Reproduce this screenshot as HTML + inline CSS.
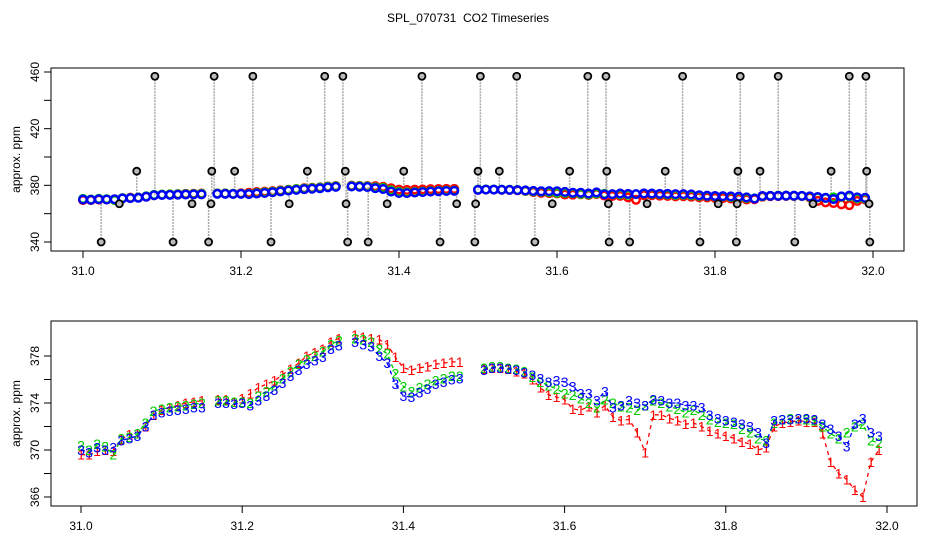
<!DOCTYPE html>
<html><head><meta charset="utf-8">
<style>
html,body{margin:0;padding:0;background:#fff;}
svg{display:block;font-family:"Liberation Sans",sans-serif;}
</style></head>
<body>
<svg id="chart" width="936" height="540" viewBox="0 0 936 540" xmlns="http://www.w3.org/2000/svg">
<rect x="0" y="0" width="936" height="540" fill="#fff"/>
<text x="468" y="22" font-size="12" text-anchor="middle" style="white-space:pre">SPL_070731  CO2 Timeseries</text>
<g id="top"></g>
<g id="bot"></g>
</svg>
<script>
const startTime = 31.0;
const timeStep = 0.01;
const ch1 = [369.6,369.6,369.9,370.0,369.9,370.9,371.3,371.4,372.0,373.0,
373.4,373.6,373.8,374.0,374.1,374.2,null,374.3,374.3,374.1,
374.4,374.8,375.3,375.6,375.9,376.4,376.9,377.4,378.0,378.3,
378.6,379.2,379.5,null,379.8,379.6,379.5,379.4,379.0,377.9,
377.0,376.8,377.0,377.1,377.3,377.4,377.5,377.5,null,null,
376.9,377.0,377.0,376.9,376.7,376.5,376.0,375.3,374.7,374.5,
374.3,373.5,373.4,373.7,373.2,373.8,372.8,372.5,372.6,371.5,
369.8,373.0,373.0,372.7,372.5,372.2,372.3,372.0,371.6,371.4,
371.2,371.0,370.7,370.5,370.0,370.2,372.0,372.3,372.4,372.5,
372.4,372.4,371.4,369.0,368.0,367.5,366.6,366.0,369.0,370.0];
const ch2 = [370.4,370.0,370.5,370.3,369.6,371.0,371.1,371.4,372.3,373.3,
373.5,373.6,373.7,373.8,373.9,374.0,null,374.2,374.2,374.1,
374.1,374.0,374.6,375.0,375.5,376.1,376.7,377.3,377.7,378.0,
378.4,379.0,379.3,null,379.5,379.4,379.2,378.6,378.2,376.5,
375.4,375.0,375.3,375.6,375.9,376.1,376.3,376.3,null,null,
377.0,377.1,377.1,377.0,376.9,376.7,376.2,375.8,375.5,375.2,
374.8,374.7,374.4,374.0,373.6,374.3,374.0,373.7,373.6,373.4,
373.8,374.2,374.0,373.7,373.5,373.2,373.4,373.0,372.6,372.4,
372.3,372.2,371.8,371.5,371.0,370.8,372.3,372.6,372.7,372.7,
372.6,372.5,372.0,371.4,371.0,371.5,372.0,372.2,370.8,370.6];
const ch3 = [370.0,369.8,370.2,370.0,370.2,370.8,371.0,371.2,372.0,373.0,
373.2,373.3,373.4,373.5,373.6,373.6,null,374.0,374.0,373.9,
374.0,373.8,374.2,374.6,375.1,375.7,376.3,376.8,377.3,377.6,
377.9,378.6,378.9,null,379.2,379.0,378.8,378.0,377.4,375.6,
374.6,374.5,374.9,375.2,375.6,375.8,376.0,376.1,null,null,
376.8,377.0,377.0,376.9,376.8,376.6,376.4,376.1,375.8,375.9,
375.8,375.4,374.8,374.8,374.2,375.0,373.6,373.8,374.2,374.0,
373.8,374.3,374.2,374.0,374.0,373.8,373.8,373.6,373.0,372.7,
372.5,372.4,372.2,372.0,371.5,370.6,372.5,372.6,372.6,372.7,
372.7,372.6,372.2,371.8,371.2,370.3,372.2,372.7,371.5,371.2];
const outlierTimes = [31.023,31.114,31.159,31.238,31.335,31.361,31.452,31.496,31.572,31.666,31.692,31.781,31.827,31.901,31.996,
31.046,31.138,31.162,31.261,31.333,31.385,31.473,31.497,31.594,31.665,31.714,31.804,31.828,31.924,31.995,
31.068,31.163,31.192,31.284,31.332,31.406,31.5,31.527,31.616,31.663,31.737,31.829,31.857,31.947,31.992,
31.091,31.166,31.215,31.306,31.329,31.429,31.503,31.549,31.639,31.662,31.759,31.832,31.88,31.97,31.991];
const outlierValues = [340,340,340,340,340,340,340,340,340,340,340,340,340,340,340,
367,367,367,367,367,367,367,367,367,367,367,367,367,367,367,
390,390,390,390,390,390,390,390,390,390,390,390,390,390,390,
457,457,457,457,457,457,457,457,457,457,457,457,457,457,457];
const xTicks = [31.0,31.2,31.4,31.6,31.8,32.0];
const xTickLabels = ["31.0","31.2","31.4","31.6","31.8","32.0"];
const topYTicks = [340,360,380,400,420,440,460];
const topYLabels = ["340","","380","","420","","460"];
const botYTicks = [366,368,370,372,374,376,378];
const botYLabels = ["366","","370","","374","","378"];

const NS="http://www.w3.org/2000/svg";
function mk(parent,tag,attrs){const e=document.createElementNS(NS,tag);for(const k in attrs)e.setAttribute(k,attrs[k]);parent.appendChild(e);return e;}
const times = ch1.map((_,i)=>startTime+i*timeStep);

function panel(g, P, yTicks, yLabels){
  const fx=t=>P.x0+(t-31)*P.sx, fy=v=>P.y0+(P.v0-v)*P.sy;
  const box=mk(g,'rect',{x:P.l,y:P.t,width:P.r-P.l,height:P.b-P.t,fill:'none',stroke:'#000','stroke-width':1});
  
  
  xTicks.forEach((t,i)=>{
    const x=fx(t);
    const tk=mk(g,'line',{x1:x,x2:x,y1:P.b,y2:P.b+7,stroke:'#000'});
    
    
    const tl=mk(g,'text',{x:x,y:P.b+24,'font-size':12,'text-anchor':'middle'});
    tl.textContent=xTickLabels[i];
    
    
  });
  yTicks.forEach((v,i)=>{
    const y=fy(v);
    const tk=mk(g,'line',{x1:P.l-7,x2:P.l,y1:y,y2:y,stroke:'#000'});
    
    
    if(yLabels[i]){
      const tl=mk(g,'text',{x:0,y:0,'font-size':12,'text-anchor':'middle',transform:`translate(${P.l-12},${y}) rotate(-90)`});
      tl.textContent=yLabels[i];
      
      
    }
  });
  const yl=mk(g,'text',{x:0,y:0,'font-size':12,'text-anchor':'middle',transform:`translate(20,${(P.t+P.b)/2}) rotate(-90)`});
  yl.textContent='approx. ppm';
  
  
  return {fx,fy};
}

// top panel
const TP={l:51,r:904,t:68,b:251,x0:83,sx:790,y0:72,v0:460,sy:170/120};
const gt=document.getElementById('top');
const A=panel(gt,TP,topYTicks,topYLabels);
const clipT=mk(gt,'clipPath',{id:'ct'});mk(clipT,'rect',{x:TP.l,y:TP.t,width:TP.r-TP.l,height:TP.b-TP.t});
const gtp=mk(gt,'g',{'clip-path':'url(#ct)'});
outlierTimes.forEach((t,i)=>{
  const idx=Math.min(ch3.length-1,Math.max(0,Math.round((t-startTime)/timeStep)));
  let base=ch3[idx];if(base==null)base=ch3[idx-1]??ch3[idx+1]??375;
  const ln=mk(gtp,'line',{x1:A.fx(t),x2:A.fx(t),y1:A.fy(outlierValues[i]),y2:A.fy(base),stroke:'#aaa','stroke-width':1.5,'stroke-dasharray':'2,1'});
  
  
});
[[ch1,'#f00'],[ch2,'#0c0'],[ch3,'#00f']].forEach(([arr,col],si)=>{
  arr.forEach((v,i)=>{ if(v==null)return;
    const c=mk(gtp,'circle',{cx:A.fx(times[i]),cy:A.fy(v),r:3.8,fill:'none',stroke:col,'stroke-width':2.4});
    
    
  });
});
outlierTimes.forEach((t,i)=>{
  const c=mk(gtp,'circle',{cx:A.fx(t),cy:A.fy(outlierValues[i]),r:3.5,fill:'#bbb',stroke:'#000','stroke-width':1.8});
  
  
});

// bottom panel
const BP={l:51,r:917,t:321,b:506,x0:81,sx:806,y0:356,v0:378,sy:11.75};
const gb=document.getElementById('bot');
const B=panel(gb,BP,botYTicks,botYLabels);
const clipB=mk(gb,'clipPath',{id:'cb'});mk(clipB,'rect',{x:BP.l,y:BP.t,width:BP.r-BP.l,height:BP.b-BP.t});
const gbp=mk(gb,'g',{'clip-path':'url(#cb)'});
[[ch1,'#f00','1'],[ch2,'#0c0','2'],[ch3,'#00f','3']].forEach(([arr,col,ch],si)=>{
  let d='',pen=false;
  arr.forEach((v,i)=>{ if(v==null){pen=false;return;} d+=(pen?'L':'M')+B.fx(times[i]).toFixed(1)+','+B.fy(v).toFixed(1);pen=true;});
  const p=mk(gbp,'path',{d:d,fill:'none',stroke:col,'stroke-width':1.3,'stroke-dasharray':'4,4'});
  
  
  arr.forEach((v,i)=>{ if(v==null)return;
    const t=mk(gbp,'text',{x:B.fx(times[i]),y:B.fy(v)+5,'font-size':14,fill:col,'text-anchor':'middle'});
    t.textContent=ch;
    
    
  });
});
</script>
</body></html>
